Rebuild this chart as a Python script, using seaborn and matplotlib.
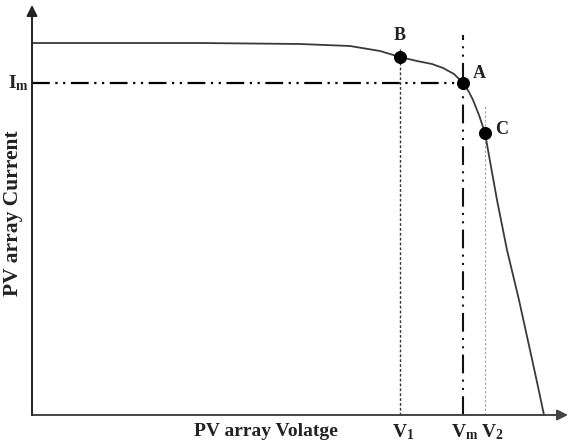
import numpy as np
import pandas as pd
import matplotlib
matplotlib.use("Agg")
import matplotlib.pyplot as plt
import seaborn as sns

# I-V curve (arbitrary units, origin at the axes corner)
voltage = [0, 100, 168, 268, 318, 348, 368, 385, 400, 411, 422, 431, 437, 441,
           447, 453, 456, 465, 475, 487, 498, 505, 512]
current = [372, 372, 372, 371, 369, 364, 358, 354, 351, 347, 341, 332, 323, 315,
           300, 282, 265, 215, 165, 115, 65, 33, 0]

# marked points
pt_names = ["B", "A", "C"]
pt_v = [368, 431, 453]
pt_i = [358, 332, 282]

# voltage / current markers
v1, vm, v2 = 368, 431, 453
im = 332
x_max, y_max = 536, 410

sns.set_style("white")
plt.rcParams["font.family"] = ["Liberation Serif", "DejaVu Serif"]
plt.rcParams["mathtext.fontset"] = "custom"
plt.rcParams["mathtext.rm"] = "Liberation Serif:bold"
plt.rcParams["mathtext.it"] = "Liberation Serif:bold"
plt.rcParams["mathtext.bf"] = "Liberation Serif:bold"

fig = plt.figure(figsize=(5.71, 4.44), dpi=100)
ax = fig.add_axes([0, 0, 1, 1])

# axes with arrows
ax.annotate("", xy=(x_max, 0), xytext=(0, 0),
            arrowprops=dict(arrowstyle="-|>", color="#444444", lw=1.4,
                            mutation_scale=16, shrinkA=0, shrinkB=0))
ax.annotate("", xy=(0, y_max), xytext=(0, 0),
            arrowprops=dict(arrowstyle="-|>", color="#222222", lw=1.4,
                            mutation_scale=16, shrinkA=0, shrinkB=0))

# guide lines
ax.plot([0, vm], [im, im], color="black", lw=1.6,
        linestyle=(0, (8, 2.5, 1, 2.5, 1, 2.5)))
ax.plot([vm, vm], [0, 380], color="#111111", lw=1.5,
        linestyle=(0, (9, 3, 1, 3, 1, 3)))
ax.plot([v1, v1], [0, 366], color="#333333", lw=1.0,
        linestyle=(0, (2, 1.5)))
ax.plot([v2, v2], [0, 310], color="#aaaaaa", lw=0.9,
        linestyle=(0, (2, 1.5)))

# the I-V curve
df = pd.DataFrame({"V": voltage, "I": current})
sns.lineplot(data=df, x="V", y="I", sort=False, color="#3a3a3a",
             lw=1.3, ax=ax)
pts = pd.DataFrame({"V": pt_v, "I": pt_i})
sns.scatterplot(data=pts, x="V", y="I", color="black", s=75,
                edgecolor="black", zorder=5, ax=ax)
ax.set_xlim(-32, 539)
ax.set_ylim(-29, 415)
ax.axis("off")

# point labels
lbl = dict(fontsize=13, fontweight="bold", color="#222222")
ax.text(pt_v[0], pt_i[0] + 13, "B", ha="center", va="bottom", **lbl)
ax.text(pt_v[1] + 10, pt_i[1] + 10, "A", ha="left", va="center", **lbl)
ax.text(pt_v[2] + 10, pt_i[2] + 3, "C", ha="left", va="center", **lbl)

# tick-like labels
tk = dict(fontsize=14, fontweight="bold", color="#222222", va="top")
ax.text(v1 + 3, -7, r"V$_1$", ha="center", **tk)
ax.text(vm + 2, -7, r"V$_\mathrm{m}$", ha="center", **tk)
ax.text(v2 + 7, -7, r"V$_2$", ha="center", **tk)
ax.text(-3, im, r"I$_\mathrm{m}$", ha="right", va="center", fontsize=14,
        fontweight="bold", color="#222222")

ax.text(234, -8, "PV array Volatge", ha="center", va="top", fontsize=14,
        fontweight="bold", color="#222222")
ax.text(-19, 202, "PV array Current", ha="center", va="center", rotation=90,
        fontsize=15.5, fontweight="bold", color="#222222")

fig.savefig("out.png", dpi=100)
